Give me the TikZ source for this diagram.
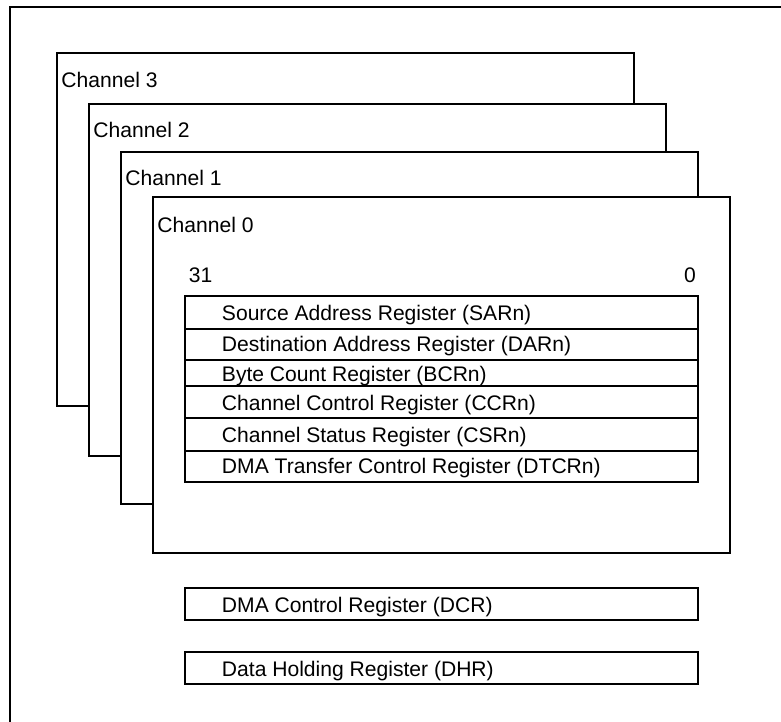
\documentclass[tikz,border=0pt]{standalone}
\usepackage{fontspec}
\setmainfont{Liberation Sans}
\usetikzlibrary{calc}

\begin{document}
\begin{tikzpicture}[x=0.02cm, y=-0.02cm, line width=1.1pt, font=\fontsize{12}{14}\selectfont]
  \tikzset{lbl/.style={anchor=base west, inner sep=0pt}}
  \useasboundingbox (0,0) rectangle (781,722);
  % outer frame
  \draw (781,7) -- (10,7) -- (10,722);
  % channels, back to front
  \foreach \n/\l/\t/\r/\b/\y in {3/57/53/634/406/88, 2/89/104/666/456/138, 1/121/152/698/504/186, 0/153/197/730/553/233} {
    \draw[fill=white] (\l,\t) rectangle (\r,\b);
    \node[lbl] (ch\n) at (\l+3.5,\y) {Channel \n};
  }
  \node[lbl] (bit31) at (188,283) {31};
  \node[anchor=base, inner sep=0pt] (bit0) at (690,283) {0};
  % channel registers
  \foreach \k/\t/\b/\y/\txt in {sar/296/329/321/Source Address Register (SARn),
      dar/329/360/352/Destination Address Register (DARn),
      bcr/360/386/382/Byte Count Register (BCRn),
      ccr/386/418/411/Channel Control Register (CCRn),
      csr/418/451/443/Channel Status Register (CSRn),
      dtcr/451/482/474/DMA Transfer Control Register (DTCRn)} {
    \draw (185,\t) rectangle (698,\b);
    \node[lbl] (\k) at (221,\y) {\txt};
  }
  % shared registers
  \foreach \k/\t/\b/\y/\txt in {dcr/588/620/612/DMA Control Register (DCR),
      dhr/652/684/676/Data Holding Register (DHR)} {
    \draw (185,\t) rectangle (698,\b);
    \node[lbl] (\k) at (221,\y) {\txt};
  }
\end{tikzpicture}
\end{document}
